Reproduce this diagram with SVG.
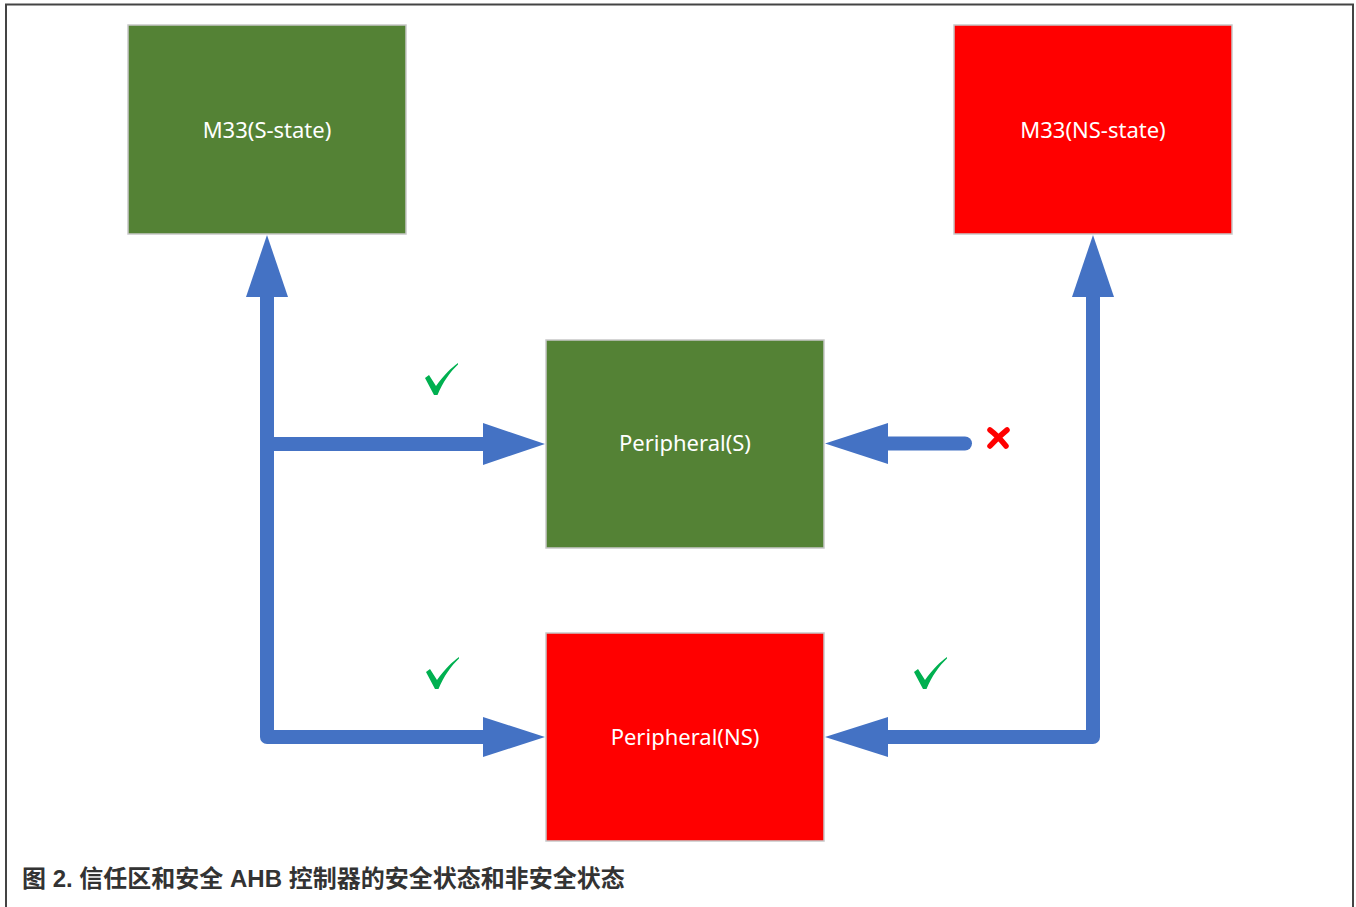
<svg xmlns="http://www.w3.org/2000/svg" width="1356" height="907" viewBox="0 0 1356 907">
  <style>
    .box { stroke: #c8c8c8; stroke-width: 1.5; }
    .s { fill: #548235; }
    .ns { fill: #ff0000; }
    .lbl { font-family: "Noto Sans", "Open Sans", sans-serif; font-size: 22px; fill: #ffffff; text-anchor: middle; }
    .shaft { fill: none; stroke: #4472c4; stroke-width: 14; stroke-linejoin: round; }
    .head { fill: #4472c4; }
    .ok { fill: #00b050; }
    .cap { font-family: "Liberation Sans", "Noto Sans CJK SC", sans-serif; font-size: 24px; font-weight: bold; fill: #333333; }
  </style>
  <defs>
    <path id="check" d="M0,15 L4,12 L11,23 C19,12 26,5 33,0 L33,1.5 C25,9 18,19 12.5,32 L9,32 Z"/>
  </defs>
  <rect x="6" y="4.5" width="1347" height="930" fill="#ffffff" stroke="#444444" stroke-width="2"/>

  <g id="connectors">
    <path class="shaft" d="M267,295 L267,737 L485,737"/>
    <path class="shaft" d="M267,444 L485,444"/>
    <path class="shaft" d="M1093,295 L1093,737 L886,737"/>
    <path class="shaft" d="M886,443.5 L965,443.5" stroke-linecap="round"/>
    <polygon class="head" points="267,235 246,297 288,297"/>
    <polygon class="head" points="545,444 483,423 483,465"/>
    <polygon class="head" points="545,737 483,717 483,757"/>
    <polygon class="head" points="1093,235 1072,297 1114,297"/>
    <polygon class="head" points="825,737 888,717 888,757"/>
    <polygon class="head" points="825,443.5 888,423 888,464"/>
  </g>

  <g id="marks">
    <use href="#check" class="ok" transform="translate(425,363)"/>
    <use href="#check" class="ok" transform="translate(426,657)"/>
    <use href="#check" class="ok" transform="translate(914,657)"/>
    <g stroke="#ff0000" stroke-width="5.5" stroke-linecap="round">
      <path d="M990,430 Q998,436 1006,446"/>
      <path d="M1007,430 Q997,438 990,446"/>
    </g>
  </g>

  <g id="m33-s">
    <rect class="box s" x="128" y="25" width="278" height="209"/>
    <text class="lbl" x="267" y="137.5">M33(S-state)</text>
  </g>
  <g id="m33-ns">
    <rect class="box ns" x="954" y="25" width="278" height="209"/>
    <text class="lbl" x="1093" y="137.5">M33(NS-state)</text>
  </g>
  <g id="peripheral-s">
    <rect class="box s" x="546" y="340" width="278" height="208"/>
    <text class="lbl" x="685" y="450.5">Peripheral(S)</text>
  </g>
  <g id="peripheral-ns">
    <rect class="box ns" x="546" y="633" width="278" height="208"/>
    <text class="lbl" x="685" y="744.5">Peripheral(NS)</text>
  </g>

  <text class="cap" x="22" y="887">图 2. 信任区和安全 AHB 控制器的安全状态和非安全状态</text>
</svg>
